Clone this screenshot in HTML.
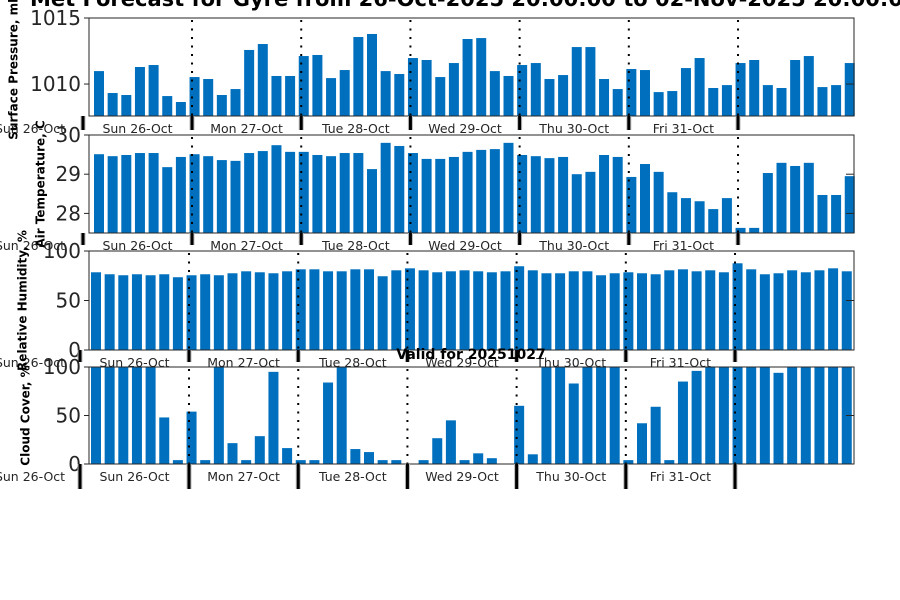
<!DOCTYPE html>
<html><head><meta charset="utf-8">
<style>
html,body{margin:0;padding:0;background:#fff;width:900px;height:600px;overflow:hidden}
svg{font-family:"DejaVu Sans","Liberation Sans",sans-serif}
</style></head>
<body>
<svg id="chart" width="900" height="600" viewBox="0 0 900 600"></svg>
<script>
const dayLabels = ["Sun 26-Oct","Sun 26-Oct","Mon 27-Oct","Tue 28-Oct","Wed 29-Oct","Thu 30-Oct","Fri 31-Oct"];
const pressure = [1010.98,1009.32,1009.17,1011.29,1011.44,1009.09,1008.64,
 1010.53,1010.38,1009.17,1009.62,1012.58,1013.03,1010.61,1010.61,
 1012.12,1012.2,1010.45,1011.06,1013.56,1013.79,1010.98,1010.76,
 1011.97,1011.82,1010.53,1011.59,1013.41,1013.48,1010.98,1010.61,
 1011.44,1011.59,1010.38,1010.68,1012.8,1012.8,1010.38,1009.62,
 1011.14,1011.06,1009.39,1009.47,1011.21,1011.97,1009.7,1009.92,
 1011.59,1011.82,1009.92,1009.7,1011.82,1012.12,1009.77,1009.92,1011.59];
const temperature = [29.51,29.46,29.49,29.54,29.54,29.18,29.44,
 29.51,29.46,29.36,29.34,29.54,29.59,29.74,29.57,
 29.57,29.49,29.46,29.54,29.54,29.13,29.8,29.72,
 29.54,29.39,29.39,29.44,29.57,29.62,29.64,29.8,
 29.49,29.46,29.41,29.44,29.0,29.06,29.49,29.44,
 28.93,29.26,29.06,28.54,28.39,28.31,28.11,28.39,
 27.63,27.63,29.03,29.29,29.21,29.29,28.47,28.47,28.95];
const humidity = [78.5,76.5,75.5,76.5,75.5,76.5,73.5,
 75.5,76.5,75.5,77.5,79.5,78.5,77.5,79.5,
 81.5,81.5,79.5,79.5,81.5,81.5,74.5,80.5,
 82.5,80.5,78.5,79.5,80.5,79.5,78.5,79.5,
 84.6,80.5,77.5,77.5,79.5,79.5,75.5,77.5,
 78.5,77.5,76.5,80.5,81.5,79.5,80.5,78.5,
 87.6,81.5,76.5,77.5,80.5,78.5,80.5,82.5,79.5];
const cloud = [100,100,100,100,100,48,4,
 54,4,100,21.5,4,28.7,95,16.4,
 4,4,84,100,15.4,12.3,4,4,
 0,4,26.6,45,4,11,6,0,
 60,10,100,100,83,100,100,100,
 4,42,59,4,85,96,100,100,
 100,100,100,94,100,100,100,100,100];
const pTicks = [1010,1015];
const tTicks = [28,29,30];
const hTicks = [0,50,100];
const cTicks = [0,50,100];

const NS = "http://www.w3.org/2000/svg";
const svg = document.getElementById("chart");
function mk(tag, attrs, parent){
  const e = document.createElementNS(NS, tag);
  for (const k in attrs) e.setAttribute(k, attrs[k]);
  (parent||svg).appendChild(e);
  return e;
}
const STEP = 13.65, BW = 10;

const panels = [
 {key:"pressure", data:pressure, ticks:pTicks, ymin:1007.58, ymax:1015, top:18, bot:116, x0:94, left:89, right:854, tickX:83, lbl:"Surface Pressure, mb", lblX:14, tickLen:14},
 {key:"temperature", data:temperature, ticks:tTicks, ymin:27.5, ymax:30, top:135, bot:233, x0:94, left:89, right:854, tickX:83, lbl:"Air Temperature, C", lblX:41, tickLen:12},
 {key:"humidity", data:humidity, ticks:hTicks, ymin:0, ymax:100, top:251, bot:350, x0:91, left:89, right:854, tickX:80, lbl:"Relative Humidity, %", lblX:23, tickLen:12},
 {key:"cloud", data:cloud, ticks:cTicks, ymin:0, ymax:100, top:367, bot:464, x0:91, left:89, right:854, tickX:80, lbl:"Cloud Cover, %", lblX:26, tickLen:25}
];

const title = mk("text",{x:30,y:6,"text-anchor":"start","font-size":"21","font-weight":"bold",fill:"#000"});


title.textContent = "Met Forecast for Gyre from 26-Oct-2025 20:00:00 to 02-Nov-2025 20:00:00";

panels.forEach(p => {
  const g = mk("g",{});
  
  
  const yS = v => p.bot - (v - p.ymin) / (p.ymax - p.ymin) * (p.bot - p.top);
  const xS = i => p.x0 + i * STEP;
  p.data.forEach((v, i) => {
    const y = Math.max(p.top, yS(v));
    const h = p.bot - y;
    if (h <= 0) return;
    const r = mk("rect",{x:xS(i).toFixed(2), y:y.toFixed(2), width:BW, height:h.toFixed(2), fill:"#0070be"}, g);
    
    
  });
  const dayLineX = k => xS(6.8 + 8*k) + BW/2 + 0.2;
  for (let k = 0; k < 6; k++) {
    const x = dayLineX(k);
    const l = mk("line",{x1:x,x2:x,y1:p.top+2,y2:p.bot,stroke:"#000","stroke-width":2,"stroke-dasharray":"2 6.5"}, g);
    
    
  }
  const fr = mk("rect",{x:p.left,y:p.top,width:p.right-p.left,height:p.bot-p.top,fill:"none",stroke:"#262626","stroke-width":1}, g);
  
  
  p.ticks.forEach(t => {
    const y = yS(t);
    mk("line",{x1:p.left-5,x2:p.left,y1:y,y2:y,stroke:"#262626","stroke-width":1}, g);
    mk("line",{x1:p.right-8,x2:p.right,y1:y,y2:y,stroke:"#262626","stroke-width":1}, g);
    const tx = mk("text",{x:p.left-8,y:y+7,"text-anchor":"end","font-size":"20",fill:"#262626"}, g);
    
    
    tx.textContent = String(t);
  });
  const tickXs = [p.tickX];
  for (let k = 0; k < 6; k++) tickXs.push(dayLineX(k));
  tickXs.forEach(x => {
    mk("line",{x1:x,x2:x,y1:p.bot,y2:p.bot+p.tickLen,stroke:"#bbb","stroke-width":5}, g);
    const tl = mk("line",{x1:x,x2:x,y1:p.bot,y2:p.bot+p.tickLen,stroke:"#000","stroke-width":3}, g);
    
    
  });
  const centers = [30];
  for (let k = 0; k < 6; k++) centers.push(((k===0?p.tickX:dayLineX(k-1)) + dayLineX(k)) / 2);
  dayLabels.forEach((lab, k) => {
    const t = mk("text",{x:centers[k],y:p.bot+17,"text-anchor":"middle","font-size":"12.5",fill:"#262626"}, g);
    
    
    t.textContent = lab;
  });
  const cy = (p.top + p.bot) / 2;
  const yl = mk("text",{x:p.lblX,y:cy,"text-anchor":"middle","font-size":"12","font-weight":"bold",fill:"#000",transform:`rotate(-90 ${p.lblX} ${cy})`,"dominant-baseline":"middle"}, g);
  
  
  yl.textContent = p.lbl;
});

const valid = mk("text",{x:471,y:359,"text-anchor":"middle","font-size":"14","font-weight":"bold",fill:"#000"});


valid.textContent = "Valid for 20251027";
</script>
</body></html>
